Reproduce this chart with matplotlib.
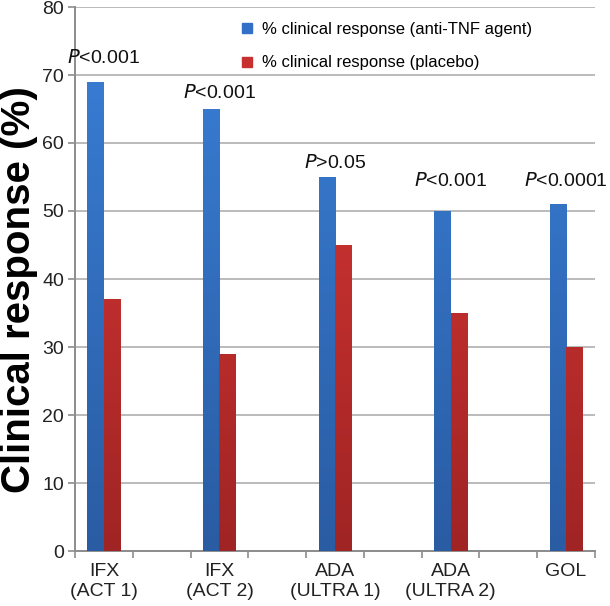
import numpy as np
import matplotlib
matplotlib.use("Agg")
import matplotlib.pyplot as plt
from matplotlib.lines import Line2D
from matplotlib.colors import LinearSegmentedColormap

plt.rcParams['font.family'] = ['Liberation Sans', 'DejaVu Sans']

categories = ["IFX\n(ACT 1)", "IFX\n(ACT 2)", "ADA\n(ULTRA 1)", "ADA\n(ULTRA 2)", "GOL"]
anti_tnf = [69, 65, 55, 50, 51]
placebo = [37, 29, 45, 35, 30]
p_labels = ["<0.001", "<0.001", ">0.05", "<0.001", "<0.0001"]
p_label_y = [72.5, 67.4, 57.1, 54.4, 54.4]
legend_labels = ["% clinical response (anti-TNF agent)", "% clinical response (placebo)"]

fig = plt.figure(figsize=(6.10, 6.06), dpi=100)
ax = fig.add_axes([75/610, 55/606, 520/610, 544/606])

slots = np.arange(len(categories)) * 2
bw = 0.285

blue_cmap = LinearSegmentedColormap.from_list("b", ["#2a5ca3", "#3a80d8"])
red_cmap = LinearSegmentedColormap.from_list("r", ["#a02424", "#de3a37"])

b1 = ax.bar(slots - bw/2, anti_tnf, bw, color="#3270c0", zorder=3)
b2 = ax.bar(slots + bw/2, placebo, bw, color="#c03030", zorder=3)

grad = np.linspace(0, 1, 256).reshape(-1, 1)
for bars, cmap in ((b1, blue_cmap), (b2, red_cmap)):
    for rect in bars:
        x0 = rect.get_x()
        w = rect.get_width()
        im = ax.imshow(grad, cmap=cmap, origin="lower", aspect="auto",
                       extent=(x0, x0 + w, 0, 80), zorder=4)
        im.set_clip_path(rect)

ax.set_xlim(-0.5, 8.5)
ax.set_ylim(0, 80)
ax.set_yticks(range(0, 81, 10))
ax.tick_params(axis='y', labelsize=14, length=5, color="#8c8c8c", width=1.2, pad=3, labelcolor="#222222")
ax.set_xticks(slots)
ax.set_xticklabels(categories, fontsize=14, color="#222222")
ax.tick_params(axis='x', which='major', length=0, pad=9)
ax.set_xticks(np.arange(-0.5, 8.6, 1), minor=True)
ax.tick_params(axis='x', which='minor', length=5, color="#8c8c8c", width=1.2)

ax.grid(axis='y', color="#a8a8a8", linewidth=1.1, zorder=0)
ax.set_axisbelow(True)
for s in ("top", "right"):
    ax.spines[s].set_visible(False)
for s in ("left", "bottom"):
    ax.spines[s].set_color("#8c8c8c")
    ax.spines[s].set_linewidth(1.4)

ax.set_ylabel("Clinical response (%)", fontsize=29, fontweight="bold")
ax.yaxis.set_label_coords(-0.072, 0.48)

for x, lab, y in zip(slots, p_labels, p_label_y):
    ax.text(x, y, r"$\it{P}$" + lab, ha="center", va="center", fontsize=14, color="#111111")

handles = [Line2D([], [], marker="s", linestyle="none", markersize=7, color="#3270c8"),
           Line2D([], [], marker="s", linestyle="none", markersize=7, color="#c83030")]
ax.legend(handles, legend_labels, loc="upper left", bbox_to_anchor=(0.29, 1.0),
          frameon=False, fontsize=12, handlelength=0.8, handletextpad=0.5,
          labelspacing=1.1)

fig.savefig("out.png", dpi=100)
